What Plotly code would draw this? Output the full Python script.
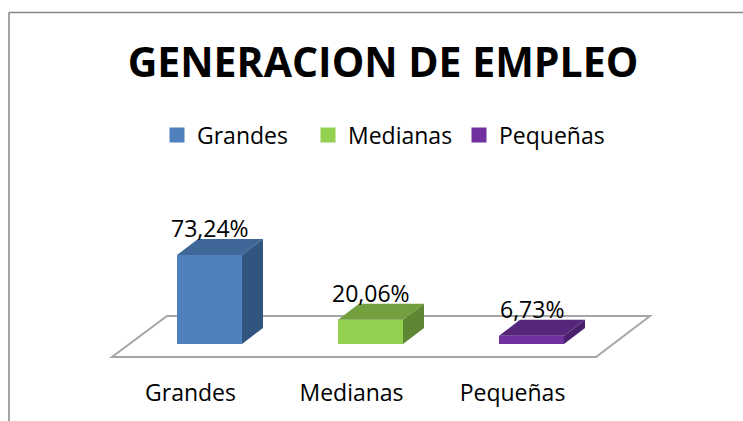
import plotly.graph_objects as go

categories = ["Grandes", "Medianas", "Pequeñas"]
values = [73.24, 20.06, 6.73]
value_labels = ["73,24%", "20,06%", "6,73%"]
title = "GENERACION DE EMPLEO"

front = ["#4F81BD", "#92D050", "#7030A0"]
top = ["#3F6797", "#739F3F", "#57267C"]
side = ["#325580", "#5F8632", "#4A1F6B"]

W, H = 743, 421
FONT = "Open Sans"
PX_X = 161.0
PX_Y = 1.215
X0_PX = 209.5
Y0_PX = 344.0
PLOT_BOTTOM = 377.0
BAR_W = 65 / PX_X
DX = 21 / PX_X
DY = 16 / PX_Y
def xd(px): return (px - X0_PX) / PX_X
def yd(px): return (Y0_PX - px) / PX_Y

fig = go.Figure()
for i, (c, v) in enumerate(zip(categories, values)):
    fig.add_bar(x=[i], y=[v], width=BAR_W, name=c, marker=dict(color=front[i], line=dict(width=0)), showlegend=False)
for i, v in enumerate(values):
    l, r = i - BAR_W / 2, i + BAR_W / 2
    fig.add_scatter(x=[l, r, r + DX, l + DX, l], y=[v, v, v + DY, v + DY, v], mode="lines", fill="toself",
                    fillcolor=top[i], line=dict(width=0), showlegend=False, hoverinfo="skip")
    fig.add_scatter(x=[r, r + DX, r + DX, r, r], y=[0, DY, v + DY, v, 0], mode="lines", fill="toself",
                    fillcolor=side[i], line=dict(width=0), showlegend=False, hoverinfo="skip")
for i, c in enumerate(categories):
    fig.add_scatter(x=[None], y=[None], mode="markers", name=c,
                    marker=dict(symbol="square", size=15, color=front[i]))

for i, v in enumerate(values):
    fig.add_annotation(x=i, y=v, yshift=27, text=value_labels[i], showarrow=False, yanchor="middle",
                       font=dict(family=FONT, size=23, color="#000"))

floor = [(112, 357), (596, 357), (650, 316), (167, 316)]
path = "M" + " L".join(f"{xd(a):.4f},{yd(b):.4f}" for a, b in floor) + " Z"
frame = "#868686"
shapes = [
    dict(type="path", path=path, xref="x", yref="y", layer="below", line=dict(color="#A6A6A6", width=2), fillcolor="white"),
    dict(type="line", xref="paper", yref="paper", x0=9 / W, x1=1, y0=1 - 12.5 / H, y1=1 - 12.5 / H,
         line=dict(color=frame, width=1.5)),
    dict(type="line", xref="paper", yref="paper", x0=9 / W, x1=9 / W, y0=0, y1=1 - 12.5 / H,
         line=dict(color=frame, width=1.5)),
]

fig.update_layout(
    width=W, height=H, margin=dict(l=0, r=0, t=0, b=0), paper_bgcolor="white", plot_bgcolor="rgba(0,0,0,0)",
    barmode="overlay", showlegend=True,
    title=dict(text=title, x=383 / W, xanchor="center", y=1 - 63 / H, yanchor="middle",
               font=dict(family=FONT, size=41, color="#000", weight="bold")),
    legend=dict(orientation="h", x=157 / W, xanchor="left", y=1 - 135 / H, yanchor="middle",
                entrywidth=106, entrywidthmode="pixels",
                font=dict(family=FONT, size=23, color="#000"), bgcolor="rgba(0,0,0,0)"),
    xaxis=dict(domain=[0, 1], range=[xd(0), xd(W)], showgrid=False, zeroline=False, showline=False,
               tickmode="array", tickvals=[i - 19 / PX_X for i in range(3)], ticktext=categories, ticks="",
               tickfont=dict(family=FONT, size=23, color="#000")),
    yaxis=dict(domain=[1 - PLOT_BOTTOM / H, 1], range=[yd(PLOT_BOTTOM), yd(0)], visible=False),
    shapes=shapes,
)
fig.write_html("out.html", post_script="document.body.style.margin='0';", config={"displayModeBar": False})
